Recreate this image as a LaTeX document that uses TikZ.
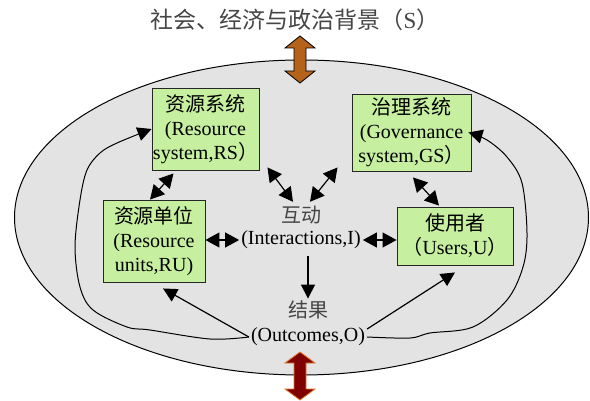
\documentclass[tikz,border=0pt]{standalone}
\usepackage{fontspec}
\setmainfont{Liberation Serif}
\newfontfamily\cjkfont{Noto Sans CJK SC}
\newcommand\zh[1]{{\cjkfont #1}}
\usetikzlibrary{calc,arrows.meta}
\definecolor{boxgreen}{HTML}{C6EFA0}
\definecolor{shell}{HTML}{E3E3E3}
\definecolor{ctxbrown}{HTML}{B5621A}
\definecolor{outred}{HTML}{800000}
\definecolor{outedge}{HTML}{E0782A}
\definecolor{soft}{HTML}{454545}
\tikzset{
  box/.style={draw=black!85, line width=0.9pt, fill=boxgreen, align=center, inner sep=1pt, font=\fontsize{20}{24}\selectfont},
  lab/.style={text=black, inner sep=2pt, font=\fontsize{20}{24}\selectfont},
  labm/.style={text=soft, inner sep=2pt, font=\fontsize{20}{24}\selectfont},
  arr/.style={draw=black, line width=1.2pt, -{Triangle[length=14pt,width=14pt]}},
  darr/.style={draw=black, line width=1.2pt, arrows={Triangle[length=14pt,width=15pt]-Triangle[length=14pt,width=15pt]}},
  fb/.style={arr, line width=1pt},
}

\begin{document}
\begin{tikzpicture}[x=1pt,y=-1pt]
  \useasboundingbox (0,0) rectangle (590,401);
  \node[labm, font=\fontsize{23}{26}\selectfont] (ctx) at (295,20) {\zh{社会、经济与政治背景（}S\zh{）}};
  \draw[line width=1pt, fill=shell] (301.5,217.5) ellipse [x radius=287, y radius=157.5];
  \filldraw[fill=ctxbrown, draw=black, line width=0.8pt] (300,36) -- (315,48) -- (306,48) -- (306,71) -- (315,71) -- (300,83) -- (285,71) -- (294,71) -- (294,48) -- (285,48) -- cycle;
  \filldraw[fill=outred, draw=outedge, line width=0.8pt] (300,352) -- (315,363) -- (306,363) -- (306,389) -- (315,389) -- (300,400) -- (285,389) -- (294,389) -- (294,363) -- (285,363) -- cycle;

  \node[box, minimum width=103, minimum height=82] (rs) at (205.5,129) {\zh{资源系统}\\(Resource\\system,RS\zh{）}};
  \node[box, minimum width=119, minimum height=77] (gs) at (411.5,132.5) {\zh{治理系统}\\(Governance\\system,GS\zh{）}};
  \node[box, minimum width=102, minimum height=82] (ru) at (154,241) {\zh{资源单位}\\(Resource\\units,RU)};
  \node[box, minimum width=116, minimum height=58] (us) at (455,236) {\zh{使用者}\\\zh{（}Users,U\zh{）}};
  \node[labm] (hd) at (301,215) {\zh{互动}};
  \node[lab] (inter) at (301,240) {(Interactions,I)};
  \node[labm] (res) at (308,310) {\zh{结果}};
  \node[lab] (outc) at (308,337) {(Outcomes,O)};

  \draw[darr] ($(rs.south)+(-32,3)$) -- ($(ru.north)+(-4,0)$);
  \draw[darr] ($(rs.south east)+(8,-3)$) -- ($(hd.north)+(-8,-2)$);
  \draw[darr] ($(gs.south west)+(-14,-4)$) -- ($(hd.north)+(9,-2)$);
  \draw[darr] ($(gs.south)+(1.5,6)$) -- ($(us.north)+(-16,-1)$);
  \draw[darr] (inter.west -| ru.east) -- (inter.west);
  \draw[darr] (inter.east) -- (inter.east -| us.west);
  \draw[arr, shorten <=5pt] (inter.south -| res.north) -- (res.north);
  \draw[arr] (outc.west) -- ($(ru.south)+(9,6)$);
  \draw[arr] ($(outc.east)+(0,-8)$) -- ($(us.south)+(0,7)$);
  \draw[fb] plot[smooth, tension=0.55] coordinates {(outc.west) (210,339) (150,330) (127,327) (93,310) (80,287) (75,247) (80,200) (87,170) (100,153) (117,143) (rs.west)};
  \draw[fb] plot[smooth, tension=0.55] coordinates {(outc.east) (410,338) (430,333) (473,327) (507,300) (523,267) (527,233) (522,183) (507,157) (487,140) ($(gs.east)+(-3,0)$)};
\end{tikzpicture}
\end{document}
